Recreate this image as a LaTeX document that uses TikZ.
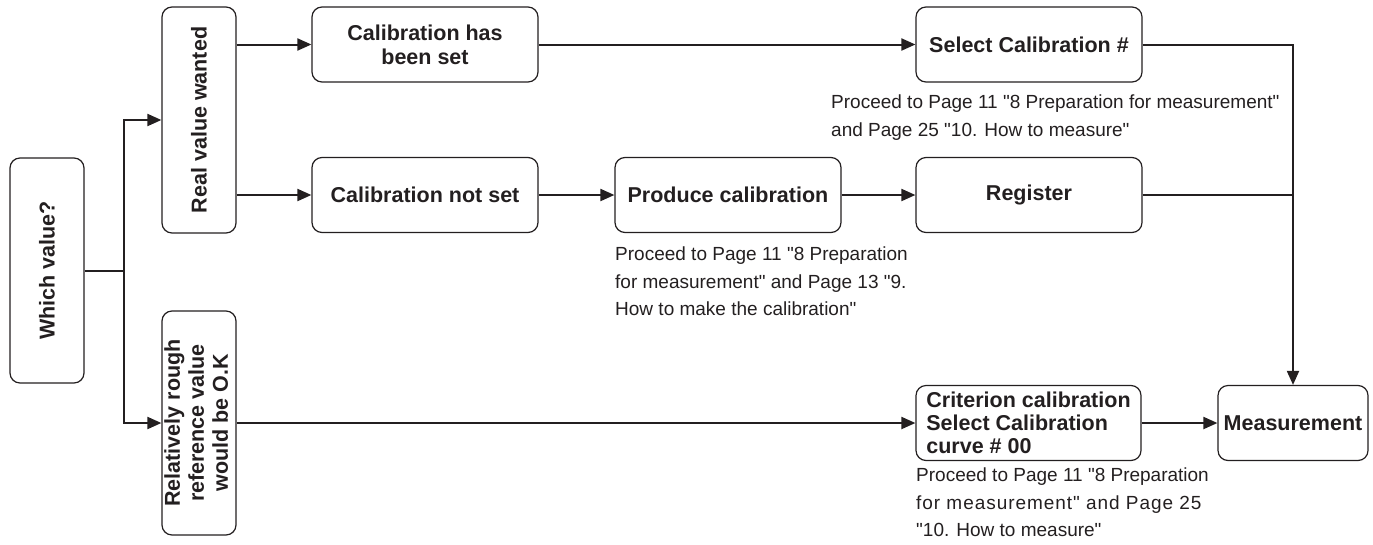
\documentclass[tikz,border=0pt]{standalone}
\usepackage{fontspec}
\setmainfont{Liberation Sans}[Ligatures=TeXOff]
\usetikzlibrary{arrows.meta}
\definecolor{ink}{HTML}{231F20}
\newcommand\boxfnt{\fontsize{21.5}{24}\selectfont\bfseries}
\newcommand\notefnt{\fontsize{19}{27.5}\selectfont}
\begin{document}
\begin{tikzpicture}[x=1pt,y=-1pt,
  box/.style={draw=ink, line width=1.2pt, rounded corners=10pt, text=ink,
    font=\boxfnt, align=center, inner sep=0pt},
  hbox/.style={box, minimum width=226pt, minimum height=75pt},
  vbox/.style={box, minimum width=74pt},
  note/.style={text=ink, font=\notefnt, align=left, inner sep=0pt, anchor=north west},
  conn/.style={draw=ink, line width=2pt},
  arr/.style={conn, -{Triangle[length=14pt,width=12pt]}}
]
\useasboundingbox (0,0) rectangle (1373,544);

% boxes
\node[vbox, minimum height=225pt] (which) at (47,270.5) {\rotatebox{90}{Which value?}};
\node[vbox, minimum height=226pt] (real) at (199,120) {\rotatebox{90}{Real value wanted}};
\node[vbox, minimum height=224pt] (rough) at (199,423)
  {\rotatebox{90}{\begin{tabular}{@{}c@{}}Relatively rough\\reference value\\would be O.K\end{tabular}}};
\node[hbox] (calhas) at (425,44.5) {Calibration has\\been set};
\node[hbox] (calnot) at (425,195) {Calibration not set};
\node[hbox] (produce) at (728,195) {Produce calibration};
\node[hbox] (register) at (1029,195) {Register};
\node[hbox] (select) at (1029,44.5) {Select Calibration \#};
\node[hbox, minimum width=225pt, align=left, font=\fontsize{21.5}{23}\selectfont\bfseries] (crit) at (1028.5,423)
  {Criterion calibration\\Select Calibration\\curve \# 00};
\node[box, minimum width=150pt, minimum height=75pt] (meas) at (1293,423) {Measurement};

% notes
\node[note] (n1) at (831,95) {Proceed to Page 11 "8 Preparation for measurement"\\and Page 25 "10. How to measure"};
\node[note] (n2) at (615,247) {Proceed to Page 11 "8 Preparation\\for measurement" and Page 13 "9.\\How to make the calibration"};
\node[note] (n3) at (916,468) {Proceed to Page 11 "8 Preparation\\{\addfontfeature{LetterSpace=5}for measurement" and Page 25}\\"10. How to measure"};

% connectors
\coordinate (j) at (124,270.5);
\draw[conn] (which.east) -- (j);
\draw[arr] (j) |- (real.west);
\draw[arr] (j) |- (rough.west);
\draw[arr] (real.east |- calhas.west) -- (calhas.west);
\draw[arr] (real.east |- calnot.west) -- (calnot.west);
\draw[arr] (calhas) -- (select);
\draw[arr] (calnot) -- (produce);
\draw[arr] (produce) -- (register);
\draw[arr] (select.east) -| (meas.north);
\draw[conn] (register.east) -- (register.east -| meas.north);
\draw[arr] (rough.east |- crit.west) -- (crit.west);
\draw[arr] (crit) -- (meas);
\end{tikzpicture}
\end{document}
